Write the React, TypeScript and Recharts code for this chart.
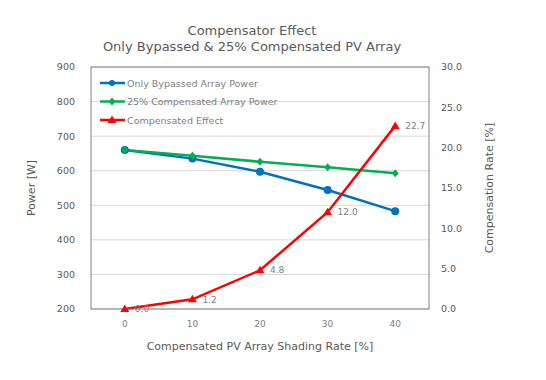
import {
  LineChart,
  Line,
  XAxis,
  YAxis,
  CartesianGrid,
  ReferenceLine,
  LabelList,
  Label,
} from "recharts";

const shadingRates = [0, 10, 20, 30, 40];
const bypassedPower = [660, 635, 597, 544, 483];
const compensatedPower = [660, 643, 626, 610, 593];
const compensatedEffect = [0.0, 1.2, 4.8, 12.0, 22.7];
const powerTicks = [200, 300, 400, 500, 600, 700, 800, 900];
const rateTicks = [0, 5, 10, 15, 20, 25, 30];

const data = shadingRates.map((rate, i) => ({
  rate,
  bypassed: bypassedPower[i],
  compensated: compensatedPower[i],
  effect: compensatedEffect[i],
}));

const FONT = "'DejaVu Sans', Verdana, sans-serif";
const GREY = "#595959";
const BLUE = "#0070C0";
const GREEN = "#00B050";
const RED = "#FF0000";

const Diamond = (props: any) => {
  const { cx, cy, fill } = props;
  if (cx == null || cy == null) return null;
  return <path d={`M${cx},${cy - 4} L${cx + 3.5},${cy} L${cx},${cy + 4} L${cx - 3.5},${cy} Z`} fill={fill} />;
};

const Triangle = (props: any) => {
  const { cx, cy, fill } = props;
  if (cx == null || cy == null) return null;
  return <path d={`M${cx},${cy - 4.5} L${cx + 4.5},${cy + 3} L${cx - 4.5},${cy + 3} Z`} fill={fill} />;
};

const legendItems = [
  { name: "Only Bypassed Array Power", color: BLUE, shape: "circle" },
  { name: "25% Compensated Array Power", color: GREEN, shape: "diamond" },
  { name: "Compensated Effect", color: RED, shape: "triangle" },
];

function LegendBox() {
  return (
    <svg width={200} height={60} style={{ position: "absolute", left: 98, top: 74 }}>
      {legendItems.map((item, i) => {
        const y = 9 + i * 18.5;
        const cx = 14;
        return (
          <g key={item.name}>
            <line x1={2} x2={27} y1={y} y2={y} stroke={item.color} strokeWidth={2.5} />
            {item.shape === "circle" && <circle cx={cx} cy={y} r={3} fill={item.color} />}
            {item.shape === "diamond" && <Diamond cx={cx} cy={y} fill={item.color} />}
            {item.shape === "triangle" && <Triangle cx={cx} cy={y} fill={item.color} />}
            <text x={29} y={y + 3.5} fontSize={9.5} fill="#808080" fontFamily={FONT}>
              {item.name}
            </text>
          </g>
        );
      })}
    </svg>
  );
}

export default function App() {
  return (
    <div style={{ position: "absolute", left: 0, top: 0, width: 546, height: 380, background: "#fff", fontFamily: FONT }}>
      <div style={{ position: "absolute", left: 0, width: 504, top: 23, textAlign: "center", fontSize: 13, color: GREY, lineHeight: "16px" }}>
        Compensator Effect
        <br />
        Only Bypassed &amp; 25% Compensated PV Array
      </div>
      <LineChart width={546} height={380} data={data} margin={{ top: 67, right: 57, bottom: 30, left: 0 }}>
        <CartesianGrid vertical={false} stroke="#d9d9d9" yAxisId="left" />
        <XAxis
          dataKey="rate"
          type="number"
          domain={[-5, 45]}
          ticks={shadingRates}
          axisLine={{ stroke: "#808080" }}
          tickLine={false}
          tick={{ fontSize: 9, fill: "#808080", fontFamily: FONT }}
          height={41}
          tickMargin={6}
        >
          <Label value="Compensated PV Array Shading Rate [%]" position="insideBottom" offset={0} fontSize={11} fill={GREY} fontFamily={FONT} />
        </XAxis>
        <YAxis
          yAxisId="left"
          domain={[200, 900]}
          ticks={powerTicks}
          width={91}
          axisLine={{ stroke: "#808080" }}
          tickLine={false}
          tick={{ fontSize: 9.5, fill: GREY, fontFamily: FONT }}
          tickMargin={10}
        >
          <Label value="Power [W]" angle={-90} position="insideLeft" offset={31} fontSize={11} fill={GREY} fontFamily={FONT} style={{ textAnchor: "middle" }} />
        </YAxis>
        <YAxis
          yAxisId="right"
          orientation="right"
          domain={[0, 30]}
          ticks={rateTicks}
          width={60}
          axisLine={{ stroke: "#808080" }}
          tickLine={false}
          tick={{ fontSize: 9.5, fill: GREY, fontFamily: FONT }}
          tickMargin={6}
          tickFormatter={(v) => Number(v).toFixed(1)}
        >
          <Label value="Compensation Rate [%]" angle={-90} position="insideRight" offset={0} fontSize={11} fill={GREY} fontFamily={FONT} style={{ textAnchor: "middle" }} />
        </YAxis>
        <ReferenceLine yAxisId="left" y={900} stroke="#808080" />
        <Line
          yAxisId="left"
          type="linear"
          dataKey="bypassed"
          stroke={BLUE}
          strokeWidth={2.5}
          dot={{ r: 4, fill: BLUE, strokeWidth: 0 }}
          isAnimationActive={false}
        />
        <Line
          yAxisId="left"
          type="linear"
          dataKey="compensated"
          stroke={GREEN}
          strokeWidth={2.5}
          dot={<Diamond fill={GREEN} />}
          isAnimationActive={false}
        />
        <Line
          yAxisId="right"
          type="linear"
          dataKey="effect"
          stroke={RED}
          strokeWidth={2.5}
          dot={<Triangle fill={RED} />}
          isAnimationActive={false}
        >
          <LabelList
            dataKey="effect"
            position="right"
            offset={10}
            formatter={(v: any) => Number(v).toFixed(1)}
            fontSize={9}
            fill="#808080"
            fontFamily={FONT}
          />
        </Line>
      </LineChart>
      <LegendBox />
    </div>
  );
}
